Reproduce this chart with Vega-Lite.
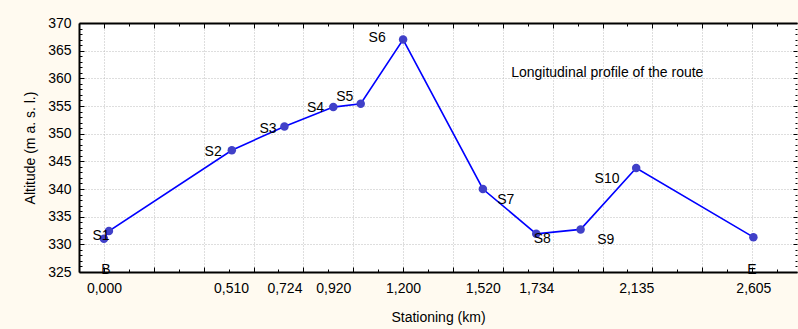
{
  "$schema": "https://vega.github.io/schema/vega-lite/v6.json",
  "width": 718,
  "height": 249,
  "autosize": {"type": "none"},
  "padding": {"left": 79, "top": 23, "right": 1, "bottom": 57},
  "background": "#fffaf0",
  "view": {"fill": "#ffffff", "stroke": null},
  "config": {
    "font": "Liberation Sans",
    "axis": {
      "labelFont": "Liberation Sans",
      "titleFont": "Liberation Sans",
      "labelFontSize": 14,
      "titleFontSize": 14,
      "titleFontWeight": "normal",
      "labelColor": "#000000",
      "titleColor": "#000000"
    }
  },
  "datasets": {
    "profile": [
      {"km": 0.0, "alt": 331.0},
      {"km": 0.02, "alt": 332.4},
      {"km": 0.513, "alt": 347.0},
      {"km": 0.724, "alt": 351.3},
      {"km": 0.92, "alt": 354.8},
      {"km": 1.03, "alt": 355.4},
      {"km": 1.2, "alt": 367.0},
      {"km": 1.52, "alt": 340.0},
      {"km": 1.734, "alt": 331.9},
      {"km": 1.912, "alt": 332.7},
      {"km": 2.135, "alt": 343.8},
      {"km": 2.605, "alt": 331.3}
    ],
    "labels": [
      {"km": -0.012, "alt": 331.5, "text": "S1"},
      {"km": 0.008, "alt": 325.4, "text": "B"},
      {"km": 0.438, "alt": 346.7, "text": "S2"},
      {"km": 0.658, "alt": 350.8, "text": "S3"},
      {"km": 0.849, "alt": 354.6, "text": "S4"},
      {"km": 0.966, "alt": 356.7, "text": "S5"},
      {"km": 1.096, "alt": 367.2, "text": "S6"},
      {"km": 1.612, "alt": 338.0, "text": "S7"},
      {"km": 1.758, "alt": 330.9, "text": "S8"},
      {"km": 2.013, "alt": 330.8, "text": "S9"},
      {"km": 2.018, "alt": 341.8, "text": "S10"},
      {"km": 2.599, "alt": 325.4, "text": "E"},
      {"km": 2.019, "alt": 361.0, "text": "Longitudinal profile of the route"}
    ]
  },
  "resolve": {"axis": {"x": "independent", "y": "independent"}},
  "layer": [
    {
      "data": {"name": "profile"},
      "mark": {"type": "line", "color": "#0000ff", "strokeWidth": 1.6},
      "encoding": {
        "x": {
          "field": "km", "type": "quantitative",
          "scale": {"domain": [-0.1, 2.78], "nice": false, "zero": false},
          "axis": {
            "orient": "bottom",
            "values": [0, 0.51, 0.724, 0.92, 1.2, 1.52, 1.734, 2.135, 2.605],
            "labelExpr": "replace(format(datum.value, '.3f'), '.', ',')",
            "ticks": false, "grid": false,
            "domain": true, "domainColor": "#000000", "domainWidth": 2,
            "labelPadding": 9, "labelFlush": false, "labelOverlap": false,
            "title": "Stationing (km)", "titlePadding": 15
          }
        },
        "y": {
          "field": "alt", "type": "quantitative",
          "scale": {"domain": [325, 370], "nice": false, "zero": false},
          "axis": {
            "orient": "left",
            "values": [325, 330, 335, 340, 345, 350, 355, 360, 365, 370],
            "format": "d",
            "ticks": false, "grid": false,
            "domain": true, "domainColor": "#000000", "domainWidth": 2,
            "labelPadding": 8, "labelFlush": false, "labelOverlap": false,
            "title": "Altitude (m a. s. l.)", "titlePadding": 10
          }
        }
      }
    },
    {
      "data": {"name": "profile"},
      "mark": {"type": "point", "filled": true, "shape": "circle", "color": "#4040c8", "size": 72, "opacity": 1},
      "encoding": {
        "x": {
          "field": "km", "type": "quantitative",
          "axis": {
            "orient": "bottom",
            "values": [0, 0.1, 0.2, 0.3, 0.4, 0.5, 0.6, 0.7, 0.8, 0.9, 1.0, 1.1, 1.2, 1.3, 1.4, 1.5, 1.6, 1.7, 1.8, 1.9, 2.0, 2.1, 2.2, 2.3, 2.4, 2.5, 2.6, 2.7],
            "labels": false, "domain": false, "title": null,
            "grid": true, "gridColor": "#bdbdbd", "gridDash": [1, 2], "gridWidth": 1,
            "gridOpacity": {"condition": {"test": "round(datum.value * 10) % 2 == 1", "value": 0}, "value": 1},
            "ticks": true, "tickColor": "#000000", "tickWidth": 1,
            "tickSize": {"condition": {"test": "round(datum.value * 10) % 2 == 1", "value": -3}, "value": -5}
          }
        },
        "y": {
          "field": "alt", "type": "quantitative",
          "axis": {
            "orient": "left",
            "values": [325, 326, 327, 328, 329, 330, 331, 332, 333, 334, 335, 336, 337, 338, 339, 340, 341, 342, 343, 344, 345, 346, 347, 348, 349, 350, 351, 352, 353, 354, 355, 356, 357, 358, 359, 360, 361, 362, 363, 364, 365, 366, 367, 368, 369, 370],
            "labels": false, "domain": false, "title": null,
            "grid": true, "gridColor": "#bdbdbd", "gridDash": [1, 2], "gridWidth": 1,
            "gridOpacity": {"condition": {"test": "datum.value % 5 != 0", "value": 0}, "value": 1},
            "ticks": true, "tickColor": "#000000", "tickWidth": 1,
            "tickSize": {"condition": {"test": "datum.value % 5 != 0", "value": -3}, "value": -5}
          }
        }
      }
    },
    {
      "data": {"name": "labels"},
      "mark": {"type": "text", "font": "Liberation Sans", "fontSize": 14, "color": "#000000", "align": "center", "baseline": "middle"},
      "encoding": {
        "x": {
          "field": "km", "type": "quantitative",
          "axis": {
            "orient": "top",
            "values": [0, 0.1, 0.2, 0.3, 0.4, 0.5, 0.6, 0.7, 0.8, 0.9, 1.0, 1.1, 1.2, 1.3, 1.4, 1.5, 1.6, 1.7, 1.8, 1.9, 2.0, 2.1, 2.2, 2.3, 2.4, 2.5, 2.6, 2.7],
            "labels": false, "title": null, "grid": false,
            "domain": true, "domainColor": "#000000", "domainWidth": 2,
            "ticks": true, "tickColor": "#000000", "tickWidth": 1,
            "tickSize": {"condition": {"test": "round(datum.value * 10) % 2 == 1", "value": -3}, "value": -5}
          }
        },
        "y": {
          "field": "alt", "type": "quantitative",
          "axis": {
            "orient": "right",
            "values": [325, 326, 327, 328, 329, 330, 331, 332, 333, 334, 335, 336, 337, 338, 339, 340, 341, 342, 343, 344, 345, 346, 347, 348, 349, 350, 351, 352, 353, 354, 355, 356, 357, 358, 359, 360, 361, 362, 363, 364, 365, 366, 367, 368, 369, 370],
            "labels": false, "title": null, "grid": false, "domain": false,
            "ticks": true, "tickColor": "#000000", "tickWidth": 1,
            "tickSize": {"condition": {"test": "datum.value % 5 != 0", "value": -2}, "value": -4}
          }
        },
        "text": {"field": "text", "type": "nominal"}
      }
    }
  ]
}
